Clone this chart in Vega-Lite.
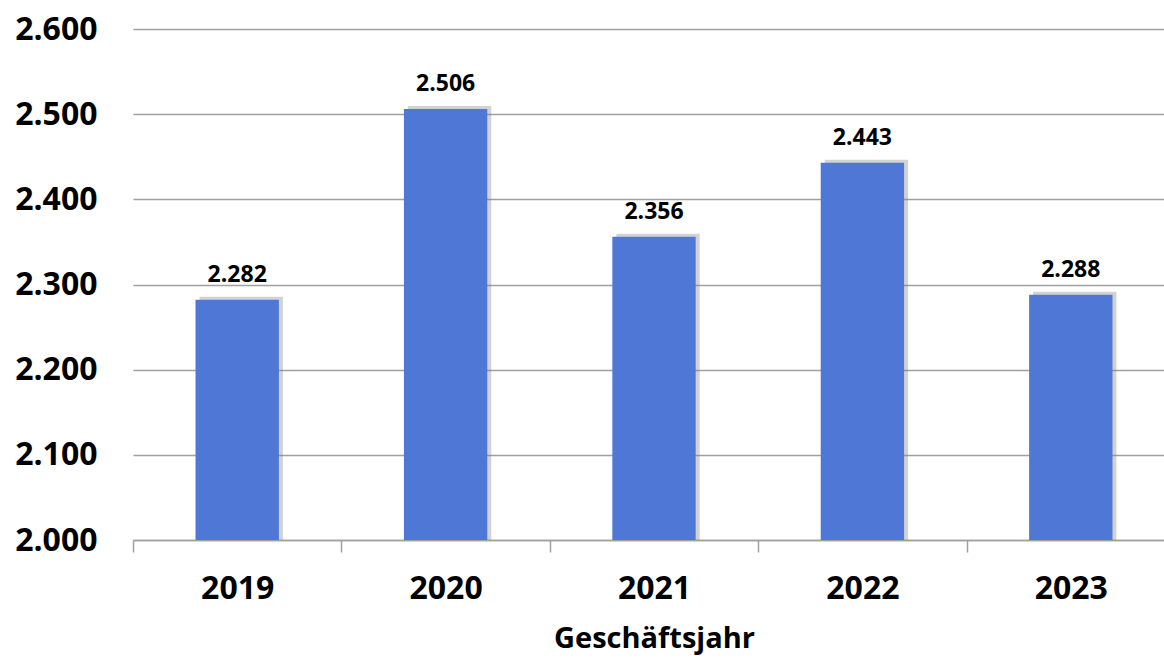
{
  "$schema": "https://vega.github.io/schema/vega-lite/v6.json",
  "autosize": "none",
  "width": 1042,
  "height": 511,
  "padding": {"left": 133, "top": 29, "right": 0, "bottom": 119},
  "background": "white",
  "config": {
    "locale": {"number": {"decimal": ",", "thousands": ".", "grouping": [3], "currency": ["", " €"]}},
    "view": {"stroke": null},
    "font": "Open Sans"
  },
  "data": {"values": [
    {"jahr": "2019", "wert": 2282},
    {"jahr": "2020", "wert": 2506},
    {"jahr": "2021", "wert": 2356},
    {"jahr": "2022", "wert": 2443},
    {"jahr": "2023", "wert": 2288}
  ]},
  "encoding": {
    "x": {"field": "jahr", "type": "ordinal", "scale": {"paddingInner": 0, "paddingOuter": 0},
      "axis": {"title": "Geschäftsjahr", "labelAngle": 0, "labelFont": "Open Sans", "labelFontWeight": "bold", "labelFontSize": 32, "labelColor": "black", "labelPadding": 21, "tickBand": "extent", "tickSize": 12, "tickColor": "#a0a0a0", "tickWidth": 1.5, "domainColor": "#a0a0a0", "domainWidth": 1.5, "titleFont": "Open Sans", "titleFontWeight": "bold", "titleFontSize": 29, "titleColor": "black", "titlePadding": 20, "grid": false}},
    "y": {"field": "wert", "type": "quantitative", "scale": {"domain": [2000, 2600], "zero": false, "nice": false},
      "axis": {"title": null, "values": [2000, 2100, 2200, 2300, 2400, 2500, 2600], "format": ",d", "labelFont": "Open Sans", "labelFontWeight": "bold", "labelFontSize": 32, "labelColor": "black", "labelPadding": 36, "ticks": false, "domain": false, "gridColor": "#a0a0a0", "gridWidth": 1.5}}
  },
  "layer": [
    {"mark": {"type": "bar", "color": "#7f7f7f", "opacity": 0.35, "width": {"band": 0.4}, "xOffset": 4, "yOffset": -3, "clip": true}, "encoding": {"y2": {"datum": 2000}}},
    {"mark": {"type": "bar", "color": "#4f78d6", "width": {"band": 0.4}, "clip": true}, "encoding": {"y2": {"datum": 2000}}},
    {"mark": {"type": "text", "baseline": "alphabetic", "dy": -18, "font": "Open Sans", "fontWeight": "bold", "fontSize": 23, "color": "black"},
      "encoding": {"text": {"field": "wert", "type": "quantitative", "format": ",d"}}}
  ]
}
